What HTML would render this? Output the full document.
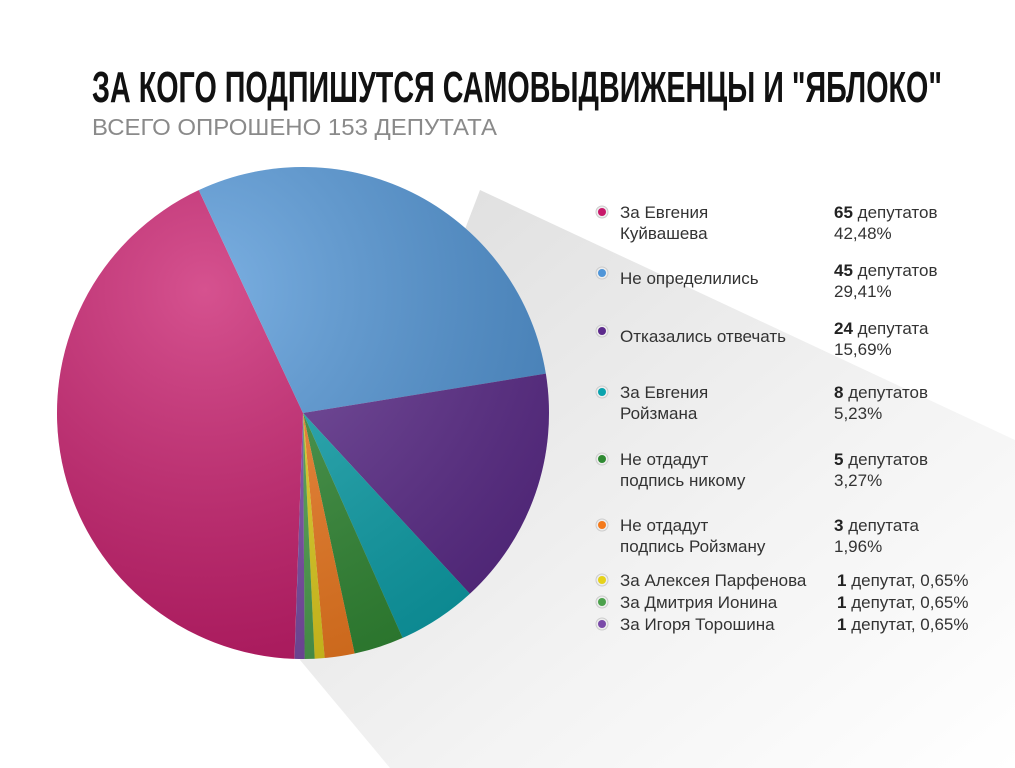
<!DOCTYPE html>
<html><head><meta charset="utf-8"><style>
body{margin:0;background:#fff;}
svg{display:block;font-family:"Liberation Sans",sans-serif;}
</style></head><body>
<svg id="s" width="1015" height="768" viewBox="0 0 1015 768">
<defs>
<linearGradient id="sh" x1="0" y1="0" x2="1" y2="1">
<stop offset="0" stop-color="#dcdcdc"/><stop offset="0.6" stop-color="#f3f3f3"/><stop offset="1" stop-color="#fff"/>
</linearGradient>
<radialGradient id="hl" cx="0.3" cy="0.25" r="0.9">
<stop offset="0" stop-color="#fff" stop-opacity="0.25"/><stop offset="1" stop-color="#000" stop-opacity="0.18"/>
</radialGradient>
</defs>
<polygon points="480,190 1015,440 1015,768 390,768 300,660" fill="url(#sh)"/>
<g id="pie"></g>
<circle cx="303" cy="413" r="246" fill="url(#hl)"/>
<text x="92" y="102" font-family="'Liberation Sans Narrow','Liberation Sans',sans-serif" font-weight="bold" font-size="44" textLength="850" lengthAdjust="spacingAndGlyphs" fill="#111">ЗА КОГО ПОДПИШУТСЯ САМОВЫДВИЖЕНЦЫ И "ЯБЛОКО"</text>
<text x="92" y="135" font-size="23" textLength="405" lengthAdjust="spacingAndGlyphs" fill="#8a8a8a">ВСЕГО ОПРОШЕНО 153 ДЕПУТАТА</text>
<g id="leg" font-size="17" fill="#333"></g>
</svg>
<script>
var cx=303,cy=413,r=246;
var d=[[42.48,'#c8186a'],[29.41,'#4f95d8'],[15.69,'#5c2a8c'],[5.23,'#0aa3ad'],[3.27,'#2f8a32'],[1.96,'#f47a1c'],[0.65,'#e6d21a'],[0.65,'#4ca14c'],[0.65,'#7a4aa8']];
var a=92*Math.PI/180,g=document.getElementById('pie'),h='';
for(var i=0;i<d.length;i++){var s=d[i][0]/100*2*Math.PI,b=a+s;
h+='<path d="M'+cx+','+cy+' L'+(cx+r*Math.cos(a))+','+(cy+r*Math.sin(a))+' A'+r+','+r+' 0 '+(s>Math.PI?1:0)+' 1 '+(cx+r*Math.cos(b))+','+(cy+r*Math.sin(b))+' Z" fill="'+d[i][1]+'"/>';a=b;}
g.innerHTML=h;
var L=[['#c8186a',['За Евгения','Куйвашева'],212,'65',' депутатов','42,48%'],
['#4f95d8',['Не определились'],278,'45',' депутатов','29,41%',270],
['#5c2a8c',['Отказались отвечать'],336,'24',' депутата','15,69%',328],
['#0aa3ad',['За Евгения','Ройзмана'],392,'8',' депутатов','5,23%'],
['#2f8a32',['Не отдадут','подпись никому'],459,'5',' депутатов','3,27%'],
['#f47a1c',['Не отдадут','подпись Ройзману'],525,'3',' депутата','1,96%']];
var t='';
L.forEach(function(l){var y=l[2];var dy=l[1].length>1?y+5:y;
t+='<circle cx="602" cy="'+(dy-5)+'" r="6" fill="#eee" stroke="#ccc"/><circle cx="602" cy="'+(dy-5)+'" r="4" fill="'+l[0]+'"/>';
l[1].forEach(function(s,k){t+='<text x="620" y="'+(y+6+k*21)+'">'+s+'</text>';});
var ry=l[6]||y;
t+='<text x="834" y="'+(ry+6)+'"><tspan font-weight="bold" fill="#222">'+l[3]+'</tspan>'+l[4]+'</text><text x="834" y="'+(ry+27)+'">'+l[5]+'</text>';});
[['#e6d21a','За Алексея Парфенова',580],['#4ca14c','За Дмитрия Ионина',602],['#7a4aa8','За Игоря Торошина',624]].forEach(function(l){
t+='<circle cx="602" cy="'+l[2]+'" r="6" fill="#eee" stroke="#ccc"/><circle cx="602" cy="'+l[2]+'" r="4" fill="'+l[0]+'"/><text x="620" y="'+(l[2]+6)+'">'+l[1]+'</text><text x="837" y="'+(l[2]+6)+'"><tspan font-weight="bold" fill="#222">1</tspan> депутат, 0,65%</text>';});
document.getElementById('leg').innerHTML=t;
</script>
</body></html>
